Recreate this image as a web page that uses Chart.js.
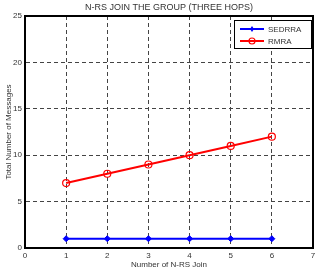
<!DOCTYPE html>
<html>
<head>
<meta charset="utf-8">
<script src="https://cdn.jsdelivr.net/npm/chart.js@4/dist/chart.umd.min.js"></script>
<style>
  html, body { margin: 0; padding: 0; background: #fff; }
  #wrap { width: 320px; height: 270px; }
</style>
</head>
<body>
<div id="wrap"><canvas id="line-chart" width="320" height="270"></canvas></div>
<script>
const nodes = [1, 2, 3, 4, 5, 6];
const sedrra = [1, 1, 1, 1, 1, 1];
const rmra = [7, 8, 9, 10, 11, 12];
const xTicks = [0, 1, 2, 3, 4, 5, 6, 7];
const yTicks = [0, 5, 10, 15, 20, 25];

const FONT = 'Liberation Sans, Arial, sans-serif';

function toPoints(vals){
    return nodes.map((n, i) => ({ x: n, y: vals[i] }));
}

// title, box and legend drawn by hand, matlab style
const extras = {
    id: 'extras',
    afterDraw(chart){
        const ctx = chart.ctx;
        const area = chart.chartArea;
        ctx.save();

        // close the axes box (top + right)
        ctx.strokeStyle = '#000';
        ctx.lineWidth = 2;
        ctx.beginPath();
        ctx.moveTo(area.left, area.top);
        ctx.lineTo(area.right, area.top);
        ctx.lineTo(area.right, area.bottom);
        ctx.stroke();

        ctx.fillStyle = '#333';
        ctx.font = '9px ' + FONT;
        ctx.textAlign = 'center';
        ctx.textBaseline = 'middle';
        ctx.fillText('N-RS JOIN THE GROUP (THREE HOPS)', (area.left + area.right) / 2, 8);

        // legend box
        const bx = area.right - 79, by = area.top + 4, bw = 78, bh = 29;
        ctx.fillStyle = '#fff';
        ctx.fillRect(bx, by, bw, bh);
        ctx.strokeStyle = '#000';
        ctx.lineWidth = 1;
        ctx.strokeRect(bx + 0.5, by + 0.5, bw - 1, bh - 1);
        ctx.textAlign = 'left';
        ctx.font = '8px ' + FONT;
        chart.data.datasets.forEach((ds, i) => {
            const ly = by + 9 + i * 12;
            ctx.strokeStyle = ds.borderColor;
            ctx.lineWidth = 2;
            ctx.beginPath();
            ctx.moveTo(bx + 6, ly);
            ctx.lineTo(bx + 30, ly);
            ctx.stroke();
            if (ds.pointStyle === 'circle') {
                ctx.lineWidth = 1.2;
                ctx.beginPath();
                ctx.arc(bx + 18, ly, 3, 0, Math.PI * 2);
                ctx.stroke();
            } else {
                ctx.fillStyle = ds.borderColor;
                ctx.beginPath();
                ctx.moveTo(bx + 18, ly - 3);
                ctx.lineTo(bx + 20, ly);
                ctx.lineTo(bx + 18, ly + 3);
                ctx.lineTo(bx + 16, ly);
                ctx.closePath();
                ctx.fill();
            }
            ctx.fillStyle = '#333';
            ctx.fillText(ds.label, bx + 34, ly + 1);
        });
        ctx.restore();
    }
};

const ctx = document.querySelector('#line-chart').getContext('2d');
const myChart = new Chart(ctx, {
    type: 'line',
    data: {
        datasets: [
            {
                label: 'SEDRRA',
                data: toPoints(sedrra),
                borderColor: '#0000ff',
                backgroundColor: '#0000ff',
                borderWidth: 2,
                pointStyle: 'rectRot',
                pointRadius: 3,
                pointBorderWidth: 1,
                fill: false
            },
            {
                label: 'RMRA',
                data: toPoints(rmra),
                borderColor: '#ff0000',
                backgroundColor: 'rgba(0,0,0,0)',
                borderWidth: 2,
                pointStyle: 'circle',
                pointRadius: 3.5,
                pointBorderWidth: 1.2,
                fill: false
            }
        ]
    },
    options: {
        responsive: false,
        animation: false,
        layout: { padding: { top: 16, right: 7, left: 0, bottom: 0 } },
        plugins: {
            legend: { display: false },
            title: { display: false },
            tooltip: { enabled: false }
        },
        scales: {
            x: {
                type: 'linear',
                min: 0,
                max: 7,
                afterFit: s => { s.height = 22; },
                afterBuildTicks: s => { s.ticks = xTicks.map(v => ({ value: v })); },
                grid: {
                    color: '#444',
                    lineWidth: 1,
                    drawTicks: false
                },
                border: { display: true, color: '#000', width: 2, dash: [4, 3] },
                ticks: { color: '#333', font: { size: 8, family: FONT }, padding: 3 },
                title: {
                    display: true,
                    text: 'Number of N-RS Join',
                    color: '#333',
                    font: { size: 8, family: FONT },
                    padding: { top: 2, bottom: 0 }
                }
            },
            y: {
                min: 0,
                max: 25,
                afterFit: s => { s.width = 25; },
                afterBuildTicks: s => { s.ticks = yTicks.map(v => ({ value: v })); },
                grid: {
                    color: '#444',
                    lineWidth: 1,
                    drawTicks: false
                },
                border: { display: true, color: '#000', width: 2, dash: [4, 3] },
                ticks: { color: '#333', font: { size: 8, family: FONT }, padding: 3 },
                title: {
                    display: true,
                    text: 'Total Number of Messages',
                    color: '#333',
                    font: { size: 8, family: FONT },
                    padding: { top: 4, bottom: 0 }
                }
            }
        }
    },
    plugins: [extras]
});
</script>
</body>
</html>
